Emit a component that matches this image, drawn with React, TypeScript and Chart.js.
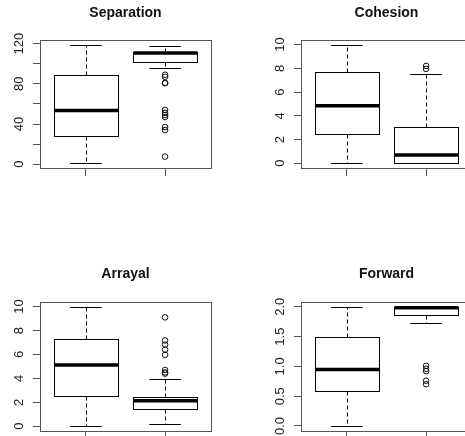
import React, { useEffect, useRef } from "react";
import { Chart, registerables } from "chart.js";

Chart.register(...registerables);

// Group positions on the x axis
const groups = [1, 2];

// Five-number summaries per group: [lower whisker, Q1, median, Q3, upper whisker]
const separationStats = [
  [1, 28, 53.5, 89, 119],
  [95.5, 101.8, 110.5, 112, 118],
];
const separationOutliers = [89, 87, 81, 80.5, 54, 51, 49, 47, 37, 34, 7.6];
const separationTicks = [0, 20, 40, 60, 80, 100, 120];
const separationTickLabels = ["0", "", "40", "", "80", "", "120"];

const cohesionStats = [
  [0, 2.5, 4.85, 7.7, 10],
  [0, 0, 0.7, 3.07, 7.55],
];
const cohesionOutliers = [8.2, 7.95];
const cohesionTicks = [0, 2, 4, 6, 8, 10];
const cohesionTickLabels = ["0", "2", "4", "6", "8", "10"];

const arrayalStats = [
  [0, 2.52, 5.12, 7.31, 10],
  [0.17, 1.4, 2.12, 2.45, 3.92],
];
const arrayalOutliers = [9.1, 7.17, 6.82, 6.4, 5.97, 4.7, 4.5, 4.4];
const arrayalTicks = [0, 2, 4, 6, 8, 10];
const arrayalTickLabels = ["0", "2", "4", "6", "8", "10"];

const forwardStats = [
  [0, 0.585, 0.95, 1.5, 2],
  [1.72, 1.866, 1.985, 2, 2],
];
const forwardOutliers = [1.01, 0.96, 0.92, 0.76, 0.7];
const forwardTicks = [0, 0.5, 1, 1.5, 2];
const forwardTickLabels = ["0.0", "0.5", "1.0", "1.5", "2.0"];

const FONT = "'Liberation Sans', Arial, Helvetica, sans-serif";
const AXIS_COLOR = "#555";

type Panel = {
  title: string;
  stats: number[][];
  outliers: number[];
  ticks: number[];
  tickLabels: string[];
  yMin: number;
  yMax: number;
  left: number;
  top: number;
  padBottom: number;
  titleTop: number;
};

const panels: Panel[] = [
  { title: "Separation", stats: separationStats, outliers: separationOutliers, ticks: separationTicks, tickLabels: separationTickLabels, yMin: -3.72, yMax: 123.72, left: 0, top: 0, padBottom: 40, titleTop: 5 },
  { title: "Cohesion", stats: cohesionStats, outliers: cohesionOutliers, ticks: cohesionTicks, tickLabels: cohesionTickLabels, yMin: -0.4, yMax: 10.4, left: 261, top: 0, padBottom: 40, titleTop: 5 },
  { title: "Arrayal", stats: arrayalStats, outliers: arrayalOutliers, ticks: arrayalTicks, tickLabels: arrayalTickLabels, yMin: -0.4, yMax: 10.4, left: 0, top: 262, padBottom: 39, titleTop: 3.5 },
  { title: "Forward", stats: forwardStats, outliers: forwardOutliers, ticks: forwardTicks, tickLabels: forwardTickLabels, yMin: -0.084, yMax: 2.084, left: 261, top: 262, padBottom: 39, titleTop: 3.5 },
];

const CANVAS_W = 232;
const CANVAS_H = 218;
const TITLE_BLOCK = 39.8;

const snap = (v: number) => Math.round(v) + 0.5;

// Draws box, median, dashed whiskers and staples for each group
const boxPlotPlugin = {
  id: "boxPlot",
  afterDatasetsDraw(chart: any, _args: any, opts: any) {
    const { ctx } = chart;
    const x = chart.scales.x;
    const y = chart.scales.y;
    const stats: number[][] = opts.stats || [];
    ctx.save();
    ctx.strokeStyle = "#000";
    ctx.lineWidth = 1;
    stats.forEach((s, i) => {
      const g = groups[i];
      const [lo, q1, med, q3, hi] = s;
      const xc = snap(x.getPixelForValue(g));
      const bl = snap(x.getPixelForValue(g - 0.4));
      const br = snap(x.getPixelForValue(g + 0.4));
      const sl = x.getPixelForValue(g - 0.2);
      const sr = x.getPixelForValue(g + 0.2);
      const yLo = snap(y.getPixelForValue(lo));
      const yQ1 = snap(y.getPixelForValue(q1));
      const yMed = y.getPixelForValue(med);
      const yQ3 = snap(y.getPixelForValue(q3));
      const yHi = snap(y.getPixelForValue(hi));

      // whiskers
      ctx.setLineDash([4, 3]);
      ctx.beginPath();
      ctx.moveTo(xc, yQ3);
      ctx.lineTo(xc, yHi);
      ctx.moveTo(xc, yQ1);
      ctx.lineTo(xc, yLo);
      ctx.stroke();
      ctx.setLineDash([]);

      // staples
      ctx.beginPath();
      ctx.moveTo(sl, yHi);
      ctx.lineTo(sr, yHi);
      ctx.moveTo(sl, yLo);
      ctx.lineTo(sr, yLo);
      ctx.stroke();

      // box
      ctx.fillStyle = "#fff";
      ctx.fillRect(bl, yQ3, br - bl, yQ1 - yQ3);
      ctx.strokeRect(bl, yQ3, br - bl, yQ1 - yQ3);

      // median
      ctx.lineWidth = 3.5;
      ctx.beginPath();
      ctx.moveTo(bl, yMed);
      ctx.lineTo(br, yMed);
      ctx.stroke();
      ctx.lineWidth = 1;
    });
    ctx.restore();
  },
  afterDraw(chart: any, _args: any, opts: any) {
    const { ctx, chartArea } = chart;
    const y = chart.scales.y;
    ctx.save();
    // plot frame
    ctx.strokeStyle = AXIS_COLOR;
    ctx.lineWidth = 1;
    const l = snap(chartArea.left);
    const t = snap(chartArea.top);
    const r = snap(chartArea.right);
    const b = snap(chartArea.bottom);
    ctx.strokeRect(l, t, r - l, b - t);

    // rotated y tick labels
    const labels: string[] = opts.tickLabels || [];
    ctx.fillStyle = "#222";
    ctx.font = `13px ${FONT}`;
    ctx.textAlign = "center";
    ctx.textBaseline = "alphabetic";
    y.ticks.forEach((tk: any, i: number) => {
      const text = labels[i];
      if (!text) return;
      const py = y.getPixelForValue(tk.value);
      ctx.save();
      ctx.translate(chartArea.left - 17, py);
      ctx.rotate(-Math.PI / 2);
      ctx.fillText(text, 0, 0);
      ctx.restore();
    });
    ctx.restore();
  },
};

function BoxPanel({ panel }: { panel: Panel }) {
  const ref = useRef<HTMLCanvasElement | null>(null);

  useEffect(() => {
    if (!ref.current) return;
    const chart = new Chart(ref.current, {
      type: "scatter",
      data: {
        datasets: [
          {
            data: panel.outliers.map((v) => ({ x: groups[1], y: v })),
            pointStyle: "circle",
            pointRadius: 2.8,
            pointBorderWidth: 1,
            pointBorderColor: "#111",
            pointBackgroundColor: "rgba(0,0,0,0)",
          },
        ],
      },
      options: {
        animation: false,
        responsive: false,
        devicePixelRatio: 1,
        layout: { padding: { top: 0, left: 40, right: 21, bottom: panel.padBottom } },
        plugins: {
          legend: { display: false },
          tooltip: { enabled: false },
          title: {
            display: true,
            text: panel.title,
            color: "#111",
            font: { family: FONT, size: 14, weight: "bold", lineHeight: 1.2 },
            padding: { top: panel.titleTop, bottom: TITLE_BLOCK - 16.8 - panel.titleTop },
          },
          boxPlot: { stats: panel.stats, tickLabels: panel.tickLabels },
        } as any,
        scales: {
          x: {
            type: "linear",
            min: 0.42,
            max: 2.58,
            afterBuildTicks: (s: any) => {
              s.ticks = groups.map((v) => ({ value: v }));
            },
            afterFit: (s: any) => {
              s.height = 10;
            },
            ticks: { display: false },
            grid: { drawOnChartArea: false, drawTicks: true, tickLength: 8, color: AXIS_COLOR, lineWidth: 1 },
            border: { display: false },
          },
          y: {
            type: "linear",
            min: panel.yMin,
            max: panel.yMax,
            afterBuildTicks: (s: any) => {
              s.ticks = panel.ticks.map((v) => ({ value: v }));
            },
            afterFit: (s: any) => {
              s.width = 0;
            },
            ticks: { display: false },
            grid: { drawOnChartArea: false, drawTicks: true, tickLength: 7, color: AXIS_COLOR, lineWidth: 1 },
            border: { display: false },
          },
        },
      } as any,
      plugins: [boxPlotPlugin],
    });
    return () => chart.destroy();
  }, [panel]);

  return (
    <canvas
      ref={ref}
      width={CANVAS_W}
      height={CANVAS_H}
      style={{ position: "absolute", left: panel.left, top: panel.top, width: CANVAS_W, height: CANVAS_H }}
    />
  );
}

export default function App() {
  return (
    <div
      style={{
        position: "absolute",
        left: 0,
        top: 0,
        width: 465,
        height: 436,
        overflow: "hidden",
        background: "#fff",
      }}
    >
      {panels.map((p) => (
        <BoxPanel key={p.title} panel={p} />
      ))}
    </div>
  );
}
